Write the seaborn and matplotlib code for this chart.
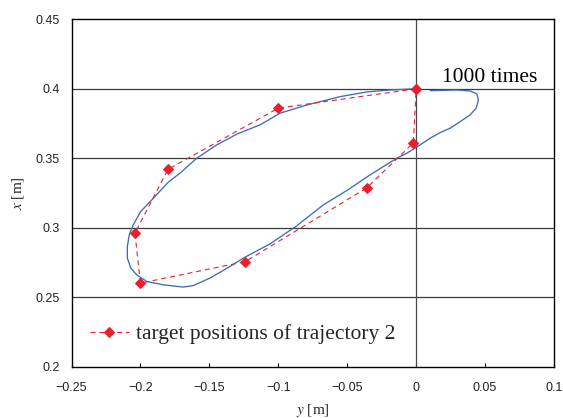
import matplotlib
matplotlib.use("Agg")
import matplotlib.pyplot as plt
import seaborn as sns
import pandas as pd

# ---- data ----
# measured trajectory (y [m], x [m])
traj_y = [0.0102, 0.0295, 0.0392, 0.0440, 0.0452, 0.0435, 0.0392, 0.0319, 0.0247, 0.0174,
          0.0102, 0.0029, -0.0067, -0.0140, -0.0334, -0.0503, -0.0673, -0.0866, -0.1060,
          -0.1253, -0.1350, -0.1495, -0.1616, -0.1689, -0.1834, -0.1954, -0.2027, -0.2070,
          -0.2095, -0.2095, -0.2081, -0.2052, -0.1998, -0.1906, -0.1798, -0.1713, -0.1591,
          -0.1446, -0.1301, -0.1132, -0.0987, -0.0793, -0.0552, -0.0358, -0.0189, -0.0020]
traj_x = [0.3986, 0.3991, 0.3984, 0.3963, 0.3919, 0.3860, 0.3812, 0.3763, 0.3716, 0.3684,
          0.3644, 0.3596, 0.3536, 0.3500, 0.3380, 0.3267, 0.3164, 0.3013, 0.2883,
          0.2781, 0.2720, 0.2637, 0.2583, 0.2572, 0.2588, 0.2612, 0.2660, 0.2709,
          0.2781, 0.2864, 0.2948, 0.3020, 0.3116, 0.3212, 0.3327, 0.3392, 0.3500,
          0.3596, 0.3673, 0.3740, 0.3824, 0.3883, 0.3943, 0.3977, 0.3991, 0.3999]

# target positions of trajectory 2 (closed loop)
target_y = [0.0, -0.100, -0.180, -0.204, -0.200, -0.124, -0.036, -0.002, 0.0]
target_x = [0.400, 0.386, 0.342, 0.296, 0.260, 0.2755, 0.3285, 0.361, 0.400]

x_ticks = [-0.25, -0.2, -0.15, -0.1, -0.05, 0, 0.05, 0.1]
x_ticklabels = ["\u22120.25", "\u22120.2", "\u22120.15", "\u22120.1", "\u22120.05", "0", "0.05", "0.1"]
y_ticks = [0.2, 0.25, 0.3, 0.35, 0.4, 0.45]
y_ticklabels = ["0.2", "0.25", "0.3", "0.35", "0.4", "0.45"]

annotation = "1000 times"
legend_label = "target positions of trajectory 2"

# ---- style ----
sns.set_theme(style="white")
plt.rcParams["font.family"] = ["Liberation Sans", "DejaVu Sans"]
plt.rcParams["mathtext.fontset"] = "stix"
plt.rcParams["lines.scale_dashes"] = False

blue = "#3E6BB8"
red = "#E8202E"

df_traj = pd.DataFrame({"y": traj_y, "x": traj_x})
df_tgt = pd.DataFrame({"y": target_y, "x": target_x})

fig = plt.figure(figsize=(5.63, 4.18), dpi=100)
W, H = 563, 418
left, right, top, bottom = 71.5, 554.0, 19.3, 366.5
ax = fig.add_axes([left / W, 1 - bottom / H, (right - left) / W, (bottom - top) / H])

# grid lines
for v in [0.25, 0.3, 0.35, 0.4]:
    ax.axhline(v, color="#3a3a3a", lw=0.9, zorder=1)
ax.axvline(0, color="#4a4a4a", lw=0.9, zorder=1)

sns.lineplot(data=df_traj, x="y", y="x", sort=False, estimator=None, ax=ax,
             color=blue, lw=0.95, zorder=3)
sns.lineplot(data=df_tgt, x="y", y="x", sort=False, estimator=None, ax=ax,
             color=red, lw=0.8, linestyle=(0, (3.6, 2.8)), marker="D",
             markersize=5.2, markeredgecolor=red, markerfacecolor=red,
             label=legend_label, zorder=4)

ax.set_xlim(-0.25, 0.1)
ax.set_ylim(0.2, 0.45)
ax.set_xticks(x_ticks)
ax.set_xticklabels(x_ticklabels)
ax.set_yticks(y_ticks)
ax.set_yticklabels(y_ticklabels)

ax.tick_params(axis="x", direction="in", length=2.8, width=0.8, color="black",
               pad=11, labelsize=9, labelcolor="#222222", bottom=True)
ax.tick_params(axis="y", length=0, pad=8.3, labelsize=9, labelcolor="#222222", left=True)

for s in ax.spines.values():
    s.set_visible(True)
    s.set_color("black")
    s.set_linewidth(1.0)

ax.set_xlabel(r"$y$ [m]", fontsize=11, family=["Liberation Serif"], labelpad=6)
ax.set_ylabel(r"$x$ [m]", fontsize=11, family=["Liberation Serif"], labelpad=7)

ax.text(0.0189, 0.405, annotation, fontsize=15.5, family=["Liberation Serif"],
        ha="left", va="baseline", color="black")

leg = ax.legend(loc="center left", bbox_to_anchor=(0.038, 0.0936), frameon=False,
                borderpad=0, borderaxespad=0, handlelength=1.8, handletextpad=0.33,
                prop={"family": "Liberation Serif", "size": 15.5})

fig.savefig("out.png", dpi=100)
